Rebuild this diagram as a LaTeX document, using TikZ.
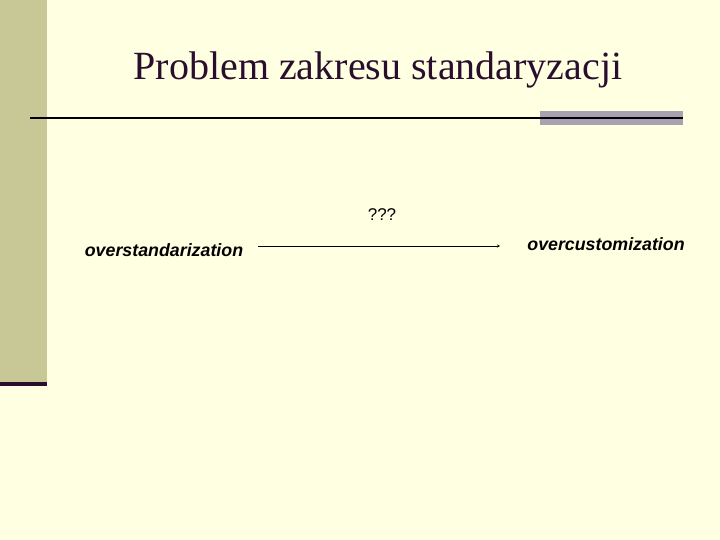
\documentclass[tikz,border=0pt]{standalone}
\usepackage{fontspec}
\setmainfont{Liberation Serif}
\setsansfont{Liberation Sans}
\usepackage{tikz}
\usetikzlibrary{positioning}
\usetikzlibrary{calc}
\definecolor{slidebg}{HTML}{FFFFE1}
\definecolor{sidebar}{HTML}{C8C896}
\definecolor{darkplum}{HTML}{2A0E2E}
\definecolor{greybar}{HTML}{A8A2B0}
\tikzset{%
  title/.style = {font=\fontsize{40}{44}\selectfont,text=darkplum,inner sep=0pt},
  term/.style = {font=\sffamily\bfseries\itshape\fontsize{17.8}{20}\selectfont,inner sep=0pt},
  mark label/.style = {font=\sffamily\fontsize{17}{19}\selectfont,inner sep=0pt},
  scalearrow/.style = {-stealth,thin}
}

\begin{document}
\begin{tikzpicture}[x=1pt,y=-1pt]
    \useasboundingbox (0,0) rectangle (720,540);
    \fill[slidebg] (0,0) rectangle (720,540);
    \fill[sidebar] (0,0) rectangle (47,382);
    \fill[darkplum] (0,382) rectangle (47,386);
    \fill[greybar] (540,111) rectangle (683,125);
    \draw[line width=2pt] (30,118) -- (683,118);

    \node[title] (heading) at (378,70) {Problem zakresu standaryzacji};

    \node[term] (over-std) at (164,250) {overstandarization};
    \node[term] (over-cust) at (606,244) {overcustomization};
    \coordinate (scale-start) at (258,246);
    \coordinate (scale-end) at (500,246);
    \node[mark label] (question) at (382,215) {???};

    \draw[scalearrow] (scale-start) -- (scale-end);
\end{tikzpicture}
\end{document}
